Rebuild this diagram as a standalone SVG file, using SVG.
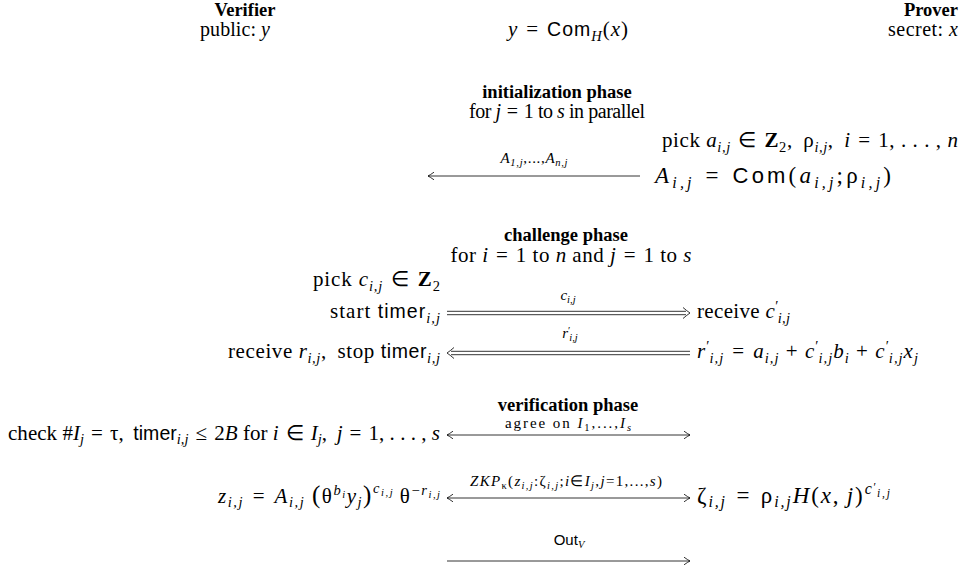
<svg xmlns="http://www.w3.org/2000/svg" width="962" height="578" viewBox="0 0 962 578">
<style>
text { font-family: "Liberation Serif", serif; font-size: 20px; fill: #000; }
.m { font-size: 21px; }
.b { font-weight: bold; font-size: 18.5px; }
.i { font-style: italic; }
.sf { font-family: "Liberation Sans", sans-serif; font-size: 19.5px; font-style: normal; }
.s { font-size: 14.5px; }
.ss { font-size: 10.5px; }
.lbl { font-size: 15px; }
.ln { stroke: #000; stroke-width: 0.8; fill: none; }
</style>
<defs>
<marker id="ah" viewBox="-8 -5 9 10" refX="0" refY="0" markerWidth="9" markerHeight="10" markerUnits="userSpaceOnUse" orient="auto-start-reverse" overflow="visible">
<path d="M-6,-3.8 Q-2,-1 0,0 Q-2,1 -6,3.8" fill="none" stroke="#000" stroke-width="0.8"/>
</marker>
</defs>

<g id="verifier">
<text class="b" x="245" y="16" text-anchor="middle">Verifier</text>
<text x="235" y="36" text-anchor="middle" textLength="70">public: <tspan class="i">y</tspan></text>
</g>
<g id="common">
<text class="m" x="568" y="36" text-anchor="middle" textLength="120"><tspan class="i">y</tspan>&#8196;=&#8196;<tspan class="sf">Com</tspan><tspan class="s i" dy="4.5">H</tspan><tspan dy="-4.5">(</tspan><tspan class="i">x</tspan>)</text>
</g>
<g id="prover">
<text class="b" x="958" y="16" text-anchor="end">Prover</text>
<text x="958" y="36" text-anchor="end" textLength="70">secret: <tspan class="i">x</tspan></text>
</g>

<g id="init-phase">
<text class="b" x="557" y="98" text-anchor="middle">initialization phase</text>
<text x="557" y="118" text-anchor="middle" textLength="176">for <tspan class="i">j</tspan>&#8196;=&#8196;1 to <tspan class="i">s</tspan> in parallel</text>
<text class="m" x="958" y="147" text-anchor="end" textLength="296">pick <tspan class="i">a</tspan><tspan class="s i" dy="4.5">i,j</tspan><tspan dy="-4.5">&#8196;∈&#8196;</tspan><tspan class="b" style="font-size:21px">Z</tspan><tspan class="s" dy="4.5">2</tspan><tspan dy="-4.5">,&#8201; ρ</tspan><tspan class="s i" dy="4.5">i,j</tspan><tspan dy="-4.5">,&#8201; </tspan><tspan class="i">i</tspan>&#8196;=&#8196;1, . . . , <tspan class="i">n</tspan></text>
<text class="m" x="655" y="183" textLength="236" style="font-size:23px"><tspan class="i">A</tspan><tspan class="s i" dy="4.5" style="font-size:16px">i,j</tspan><tspan dy="-4.5">&#8196;=&#8196;</tspan><tspan class="sf" style="font-size:22px">Com</tspan>(<tspan class="i">a</tspan><tspan class="s i" dy="4.5" style="font-size:16px">i,j</tspan><tspan dy="-4.5">;ρ</tspan><tspan class="s i" dy="4.5" style="font-size:16px">i,j</tspan><tspan dy="-4.5">)</tspan></text>
<text class="lbl" x="534" y="163" text-anchor="middle" textLength="67"><tspan class="i">A</tspan><tspan class="ss i" dy="3">1,j</tspan><tspan dy="-3">,...,</tspan><tspan class="i">A</tspan><tspan class="ss i" dy="3">n,j</tspan></text>
</g>

<g id="challenge-phase">
<text class="b" x="566" y="241" text-anchor="middle">challenge phase</text>
<text class="m" x="571" y="262" text-anchor="middle" textLength="241">for <tspan class="i">i</tspan>&#8196;=&#8196;1 to <tspan class="i">n</tspan> and <tspan class="i">j</tspan>&#8196;=&#8196;1 to <tspan class="i">s</tspan></text>
<text class="m" x="440" y="286" text-anchor="end" textLength="127">pick <tspan class="i">c</tspan><tspan class="s i" dy="4.5">i,j</tspan><tspan dy="-4.5">&#8196;∈&#8196;</tspan><tspan class="b" style="font-size:21px">Z</tspan><tspan class="s" dy="4.5">2</tspan></text>
<text class="m" x="440" y="318" text-anchor="end" textLength="110">start <tspan class="sf">timer</tspan><tspan class="s i" dy="4.5">i,j</tspan></text>
<text class="lbl" x="568" y="300" text-anchor="middle"><tspan class="i">c</tspan><tspan class="ss i" dy="3">i,j</tspan></text>
<text class="m" x="697" y="318" textLength="93">receive <tspan class="i">c</tspan><tspan class="s" dy="-7">′</tspan><tspan class="s i" dx="-1" dy="11.5">i,j</tspan></text>
<text class="m" x="440" y="358" text-anchor="end" textLength="212">receive <tspan class="i">r</tspan><tspan class="s i" dy="4.5">i,j</tspan><tspan dy="-4.5">,&#8201; stop </tspan><tspan class="sf">timer</tspan><tspan class="s i" dy="4.5">i,j</tspan></text>
<text class="lbl" x="570" y="338" text-anchor="middle"><tspan class="i">r</tspan><tspan class="ss" dy="-4">′</tspan><tspan class="ss i" dx="-1" dy="7">i,j</tspan></text>
<text class="m" x="697" y="358" textLength="221"><tspan class="i">r</tspan><tspan class="s" dy="-7">′</tspan><tspan class="s i" dx="-1" dy="11.5">i,j</tspan><tspan dy="-4.5">&#8196;=&#8196;</tspan><tspan class="i">a</tspan><tspan class="s i" dy="4.5">i,j</tspan><tspan dy="-4.5">&#8197;+&#8197;</tspan><tspan class="i">c</tspan><tspan class="s" dy="-7">′</tspan><tspan class="s i" dx="-1" dy="11.5">i,j</tspan><tspan class="i" dy="-4.5">b</tspan><tspan class="s i" dy="4.5">i</tspan><tspan dy="-4.5">&#8197;+&#8197;</tspan><tspan class="i">c</tspan><tspan class="s" dy="-7">′</tspan><tspan class="s i" dx="-1" dy="11.5">i,j</tspan><tspan class="i" dy="-4.5">x</tspan><tspan class="s i" dy="4.5">j</tspan></text>
</g>

<g id="verification-phase">
<text class="b" x="568" y="411" text-anchor="middle">verification phase</text>
<text class="m" x="440" y="439.5" text-anchor="end" textLength="432">check #<tspan class="i">I</tspan><tspan class="s i" dy="4.5">j</tspan><tspan dy="-4.5">&#8196;=&#8196;τ,&#8201; </tspan><tspan class="sf">timer</tspan><tspan class="s i" dy="4.5">i,j</tspan><tspan dy="-4.5">&#8196;≤&#8196;2</tspan><tspan class="i">B</tspan> for <tspan class="i">i</tspan>&#8196;∈&#8196;<tspan class="i">I</tspan><tspan class="s i" dy="4.5">j</tspan><tspan dy="-4.5">,&#8201; </tspan><tspan class="i">j</tspan>&#8196;=&#8196;1, . . . , <tspan class="i">s</tspan></text>
<text class="lbl" x="568" y="428" text-anchor="middle" textLength="126">agree on <tspan class="i">I</tspan><tspan class="ss" dy="3">1</tspan><tspan dy="-3">,...,</tspan><tspan class="i">I</tspan><tspan class="ss i" dy="3">s</tspan></text>
<text class="m" x="440" y="502.5" text-anchor="end" textLength="222"><tspan class="i">z</tspan><tspan class="s i" dy="4.5">i,j</tspan><tspan dy="-4.5">&#8196;=&#8196;</tspan><tspan class="i">A</tspan><tspan class="s i" dy="4.5">i,j</tspan><tspan dy="-4.5" font-size="25">&#8201;(</tspan>θ<tspan class="s i" dy="-8">b</tspan><tspan class="ss i" dy="3">i</tspan><tspan class="i" dy="5">y</tspan><tspan class="s i" dy="4.5">j</tspan><tspan dy="-4.5" font-size="25">)</tspan><tspan class="s i" dy="-10">c</tspan><tspan class="ss i" dy="3">i,j</tspan><tspan dy="7">&#8201;θ</tspan><tspan class="s" dy="-8">−</tspan><tspan class="s i">r</tspan><tspan class="ss i" dy="3">i,j</tspan></text>
<text class="lbl" x="566" y="486" text-anchor="middle" textLength="192"><tspan class="i">ZKP</tspan><tspan class="ss" dy="3">κ</tspan><tspan dy="-3">(</tspan><tspan class="i">z</tspan><tspan class="ss i" dy="3">i,j</tspan><tspan dy="-3">:ζ</tspan><tspan class="ss i" dy="3">i,j</tspan><tspan dy="-3">;</tspan><tspan class="i">i</tspan>∈<tspan class="i">I</tspan><tspan class="ss i" dy="3">j</tspan><tspan dy="-3">,</tspan><tspan class="i">j</tspan>=1,...,<tspan class="i">s</tspan>)</text>
<text class="m" x="697" y="502.5" textLength="193" style="font-size:23px">ζ<tspan class="s i" dy="4.5" style="font-size:16px">i,j</tspan><tspan dy="-4.5">&#8196;=&#8196;ρ</tspan><tspan class="s i" dy="4.5" style="font-size:16px">i,j</tspan><tspan class="i" dy="-4.5">H</tspan>(<tspan class="i">x</tspan>,&#8201;<tspan class="i">j</tspan>)<tspan class="s i" dy="-9" style="font-size:16px">c</tspan><tspan class="ss" dy="-3" style="font-size:11.5px">′</tspan><tspan class="ss i" dx="-1" dy="6" style="font-size:11.5px">i,j</tspan></text>
<text class="lbl" x="569" y="545" text-anchor="middle"><tspan class="sf" style="font-size:15px">Out</tspan><tspan class="ss i" dy="3">V</tspan></text>
</g>

<g id="connectors">
<line class="ln" x1="428" y1="176" x2="640" y2="176" marker-start="url(#ah)"/>
<path class="ln" d="M447,311.3 H686 M447,314.7 H686"/>
<path class="ln" d="M683,307.5 Q687,311 690,313 Q687,315 683,318.5"/>
<path class="ln" d="M451,351.3 H690 M451,354.7 H690"/>
<path class="ln" d="M454,347.5 Q450,351 447,353 Q450,355 454,358.5"/>
<line class="ln" x1="447" y1="435" x2="690" y2="435" marker-start="url(#ah)" marker-end="url(#ah)"/>
<line class="ln" x1="447" y1="498" x2="690" y2="498" marker-start="url(#ah)" marker-end="url(#ah)"/>
<line class="ln" x1="447" y1="561" x2="690" y2="561" marker-end="url(#ah)"/>
</g>
</svg>
